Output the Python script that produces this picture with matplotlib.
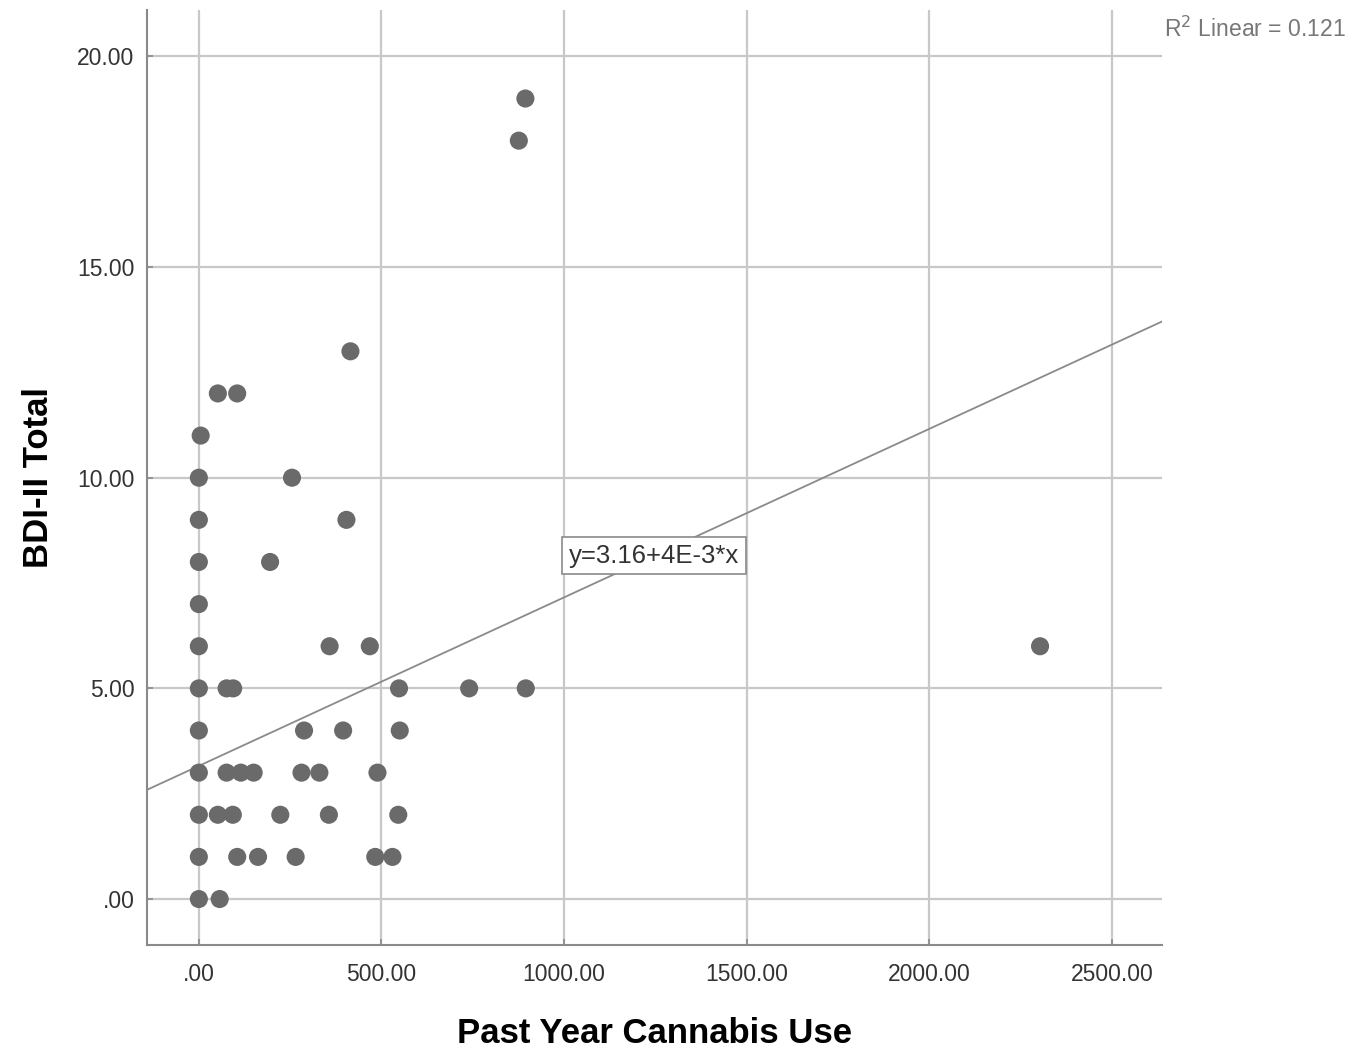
import matplotlib
matplotlib.use("Agg")
import matplotlib.pyplot as plt
import numpy as np

plt.rcParams['font.family'] = ['Liberation Sans', 'DejaVu Sans']

# Past year cannabis use vs BDI-II total
cannabis = [0, 0, 0, 0, 0, 0, 0, 0, 0, 0, 0,
            5, 52, 105, 255, 404, 195, 358, 468,
            76, 94, 548, 740, 895,
            288, 395, 550,
            76, 115, 150, 281, 330, 489,
            52, 93, 223, 356, 546,
            105, 162, 265, 483, 530,
            57, 415, 876, 894, 2303]
bdi = [0, 1, 2, 3, 4, 5, 6, 7, 8, 9, 10,
       11, 12, 12, 10, 9, 8, 6, 6,
       5, 5, 5, 5, 5,
       4, 4, 4,
       3, 3, 3, 3, 3, 3,
       2, 2, 2, 2, 2,
       1, 1, 1, 1, 1,
       0, 13, 18, 19, 6]

# fit line as printed on the chart
intercept = 3.16
slope = 0.004
r2_text = "R$^2$ Linear = 0.121"
eq_text = "y=3.16+4E-3*x"

xticks = [0, 500, 1000, 1500, 2000, 2500]
yticks = [0, 5, 10, 15, 20]


def fmt(v):
    s = "%.2f" % v
    return ".00" if v == 0 else s


fig = plt.figure(figsize=(13.66, 10.57), dpi=100)
ax = fig.add_axes([0.1076, 0.106, 0.7431, 0.8845])

xlim = (-142, 2637)
ylim = (-1.09, 21.1)
ax.set_xlim(xlim)
ax.set_ylim(ylim)

ax.set_xticks(xticks)
ax.set_yticks(yticks)
ax.set_xticklabels([fmt(v) for v in xticks])
ax.set_yticklabels([fmt(v) for v in yticks])
ax.grid(True, color='#c8c8c8', linewidth=1.6)
ax.set_axisbelow(True)

for side in ['top', 'right']:
    ax.spines[side].set_visible(False)
for side in ['left', 'bottom']:
    ax.spines[side].set_color('#8a8a8a')
    ax.spines[side].set_linewidth(1.5)
ax.tick_params(direction='in', length=4, width=1.2, color='#8a8a8a',
               labelsize=16.5, labelcolor='#333333')
ax.tick_params(axis='x', pad=13)
ax.tick_params(axis='y', pad=9)

# regression line across the full x range
xs = np.array(xlim)
ax.plot(xs, intercept + slope * xs, color='#8a8a8a', linewidth=1.3, zorder=2)

ax.scatter(cannabis, bdi, s=170, color='#6a6a6a', edgecolors='none', zorder=3)

ax.text(1246, 8.15, eq_text, fontsize=18.5, color='#333333', ha='center', va='center',
        bbox=dict(boxstyle='square,pad=0.25', facecolor='white', edgecolor='#8a8a8a', linewidth=1.2),
        zorder=4)

fig.text(0.985, 0.972, r2_text, fontsize=16.5, color='#777777', ha='right', va='center')

ax.set_xlabel("Past Year Cannabis Use", fontsize=25, fontweight='bold', labelpad=22)
ax.set_ylabel("BDI-II Total", fontsize=25, fontweight='bold', labelpad=16)

fig.savefig("out.png", dpi=100)
